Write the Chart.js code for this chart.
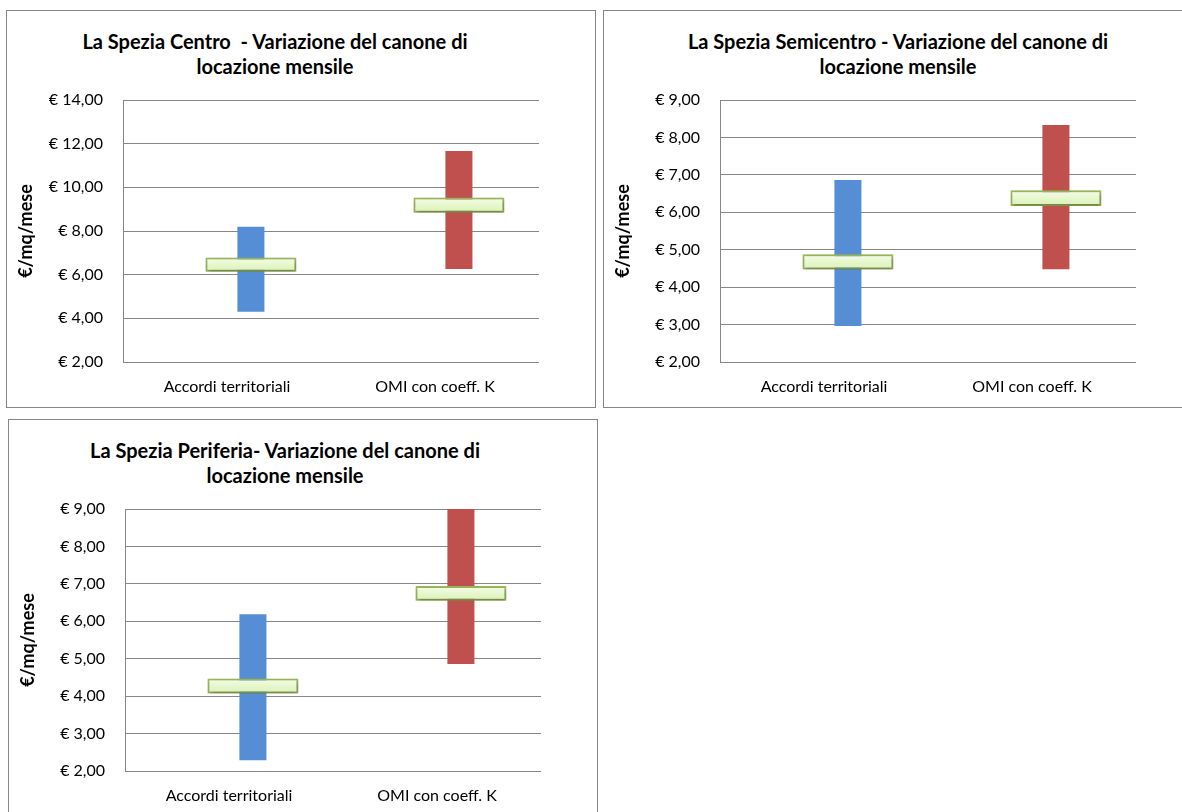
<!DOCTYPE html>
<html>
<head>
<meta charset="utf-8">
<title>La Spezia - canone di locazione</title>
<script src="https://cdn.jsdelivr.net/npm/chart.js@4"></script>
<style>
  body { margin: 0; background: #fff; width: 1182px; height: 812px; overflow: hidden; position: relative; font-family: Lato, sans-serif; }
  .box { position: absolute; border: 1px solid #878787; width: 588px; height: 396px; background: #fff; }
  .box canvas { position: absolute; left: 0; top: 0; }
  .titolo { position: absolute; top: 18px; font-weight: bold; font-size: 20px; line-height: 25px; text-align: center; white-space: pre; transform: translateX(-50%); color: #000; }
</style>
</head>
<body>

<div class="box" style="left:6px; top:10px;">
  <div class="titolo" style="left:268px;">La Spezia Centro  - Variazione del canone di
locazione mensile</div>
  <canvas id="centro" width="588" height="396"></canvas>
</div>

<div class="box" style="left:603px; top:10px;">
  <div class="titolo" style="left:294px;">La Spezia Semicentro - Variazione del canone di
locazione mensile</div>
  <canvas id="semicentro" width="588" height="396"></canvas>
</div>

<div class="box" style="left:8px; top:419px;">
  <div class="titolo" style="left:276px;">La Spezia Periferia- Variazione del canone di
locazione mensile</div>
  <canvas id="periferia" width="588" height="396"></canvas>
</div>

<script>
// categorie e valori (€/mq/mese): minimo-massimo e fascia centrale
const categorie = ['Accordi territoriali', 'OMI con coeff. K'];

const centroRange = [[4.30, 8.20], [6.26, 11.66]];
const centroMedia = [[6.13, 6.79], [8.84, 9.54]];
const centroAsse = [2, 14, 2];   // min, max, passo

const semicentroRange = [[2.96, 6.86], [4.48, 8.33]];
const semicentroMedia = [[4.47, 4.88], [6.17, 6.59]];
const semicentroAsse = [2, 9, 1];

const periferiaRange = [[2.29, 6.19], [4.86, 9.00]];
const periferiaMedia = [[4.07, 4.47], [6.55, 6.94]];
const periferiaAsse = [2, 9, 1];

const coloriRange = ['#558ed5', '#c0504d'];

// ombra sotto il rettangolo verde
const ombra = {
    id: 'ombra',
    beforeDatasetDraw(chart, args) {
        if (args.index !== 1) return;
        const ctx = chart.ctx;
        ctx.save();
        ctx.shadowColor = 'rgba(0, 0, 0, 0.35)';
        ctx.shadowBlur = 4;
        ctx.shadowOffsetX = 1;
        ctx.shadowOffsetY = 2;
    },
    afterDatasetDraw(chart, args) {
        if (args.index !== 1) return;
        chart.ctx.restore();
    }
};

// sfumatura verticale del rettangolo verde
function verde(c) {
    const y = c.chart.scales.y;
    if (!y || !c.raw) return '#e3f5c4';
    const top = y.getPixelForValue(c.raw[1]);
    const bottom = y.getPixelForValue(c.raw[0]);
    if (!isFinite(top) || !isFinite(bottom)) return '#e3f5c4';
    const g = c.chart.ctx.createLinearGradient(0, top, 0, bottom);
    g.addColorStop(0, '#f5fde9');
    g.addColorStop(1, '#d9f1b2');
    return g;
}

function euro(v) {
    return '€ ' + v.toFixed(2).replace('.', ',');
}

function variazioneChart(id, range, media, asse) {
    const data = {
        labels: categorie,
        datasets: [
            // colonna vuota, sposta le barre a destra della categoria
            { label: 'vuoto', data: [null, null], stack: 'a', order: 0 },
            {
                label: 'media', data: media, stack: 'b', order: 1,
                backgroundColor: verde, borderColor: '#9bbb59', borderWidth: 2, borderSkipped: false,
                categoryPercentage: 0.46, barPercentage: 1.9
            },
            {
                label: 'range', data: range, stack: 'b', order: 2,
                backgroundColor: coloriRange, borderWidth: 0,
                categoryPercentage: 0.46, barPercentage: 0.565
            }
        ]
    };
    const config = {
        type: 'bar',
        data: data,
        options: {
            responsive: false,
            animation: false,
            layout: { padding: { top: 89, right: 56, left: 0, bottom: 0 } },
            plugins: { legend: { display: false }, tooltip: { enabled: false } },
            scales: {
                x: {
                    grid: { display: false, drawTicks: false },
                    border: { display: false },
                    ticks: { color: '#000', padding: 15, font: { family: 'Lato', size: 16 } },
                    afterFit(s) { s.height = 45; }
                },
                y: {
                    stacked: false,
                    min: asse[0], max: asse[1],
                    ticks: { stepSize: asse[2], color: '#000', padding: 20, font: { family: 'Lato', size: 16 }, callback: euro },
                    grid: { color: '#878787', drawTicks: false },
                    border: { color: '#878787' },
                    title: { display: true, text: '€/mq/mese', color: '#000', font: { family: 'Lato', size: 18, weight: 'bold' }, padding: { top: 8, bottom: 0 } },
                    afterFit(s) { s.width = 116; }
                }
            }
        },
        plugins: [ombra]
    };
    let ctx = document.getElementById(id).getContext('2d');
    new Chart(ctx, config);
}

variazioneChart('centro', centroRange, centroMedia, centroAsse);
variazioneChart('semicentro', semicentroRange, semicentroMedia, semicentroAsse);
variazioneChart('periferia', periferiaRange, periferiaMedia, periferiaAsse);
</script>
</body>
</html>
